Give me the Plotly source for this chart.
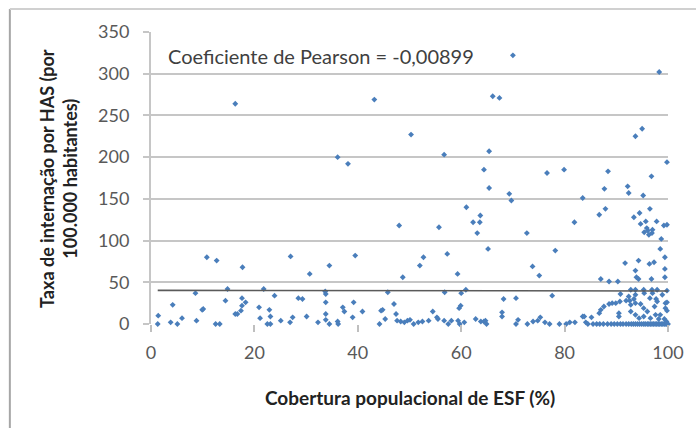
import plotly.graph_objects as go

# Cobertura populacional de ESF (%) and Taxa de internação por HAS (por 100.000 habitantes)
cobertura = [
    70.0, 98.3, 16.3, 43.2, 66.1, 67.4, 50.3, 93.7, 95.0, 36.1, 38.1, 56.7, 65.4, 64.4, 76.6, 79.9,
    88.4, 99.8, 96.8, 65.4, 87.7, 92.2, 92.4, 95.2, 69.3, 69.7, 83.5, 61.0, 63.7, 63.6, 62.3, 63.1,
    81.9, 86.7, 87.9, 96.5, 93.4, 94.5, 94.7, 95.7, 96.1, 95.4, 96.9, 97.8, 99.2, 99.8, 98.5, 98.7,
    48.0, 55.7, 72.7, 57.3, 65.2, 78.2, 39.5, 27.0, 10.8, 12.7, 52.7, 52.0, 34.5, 73.8, 17.7, 75.1,
    30.7, 48.7, 59.3, 91.7, 94.3, 96.4, 97.3, 99.4, 99.4, 93.7, 87.0, 88.6, 90.3, 93.9, 94.3, 96.8,
    99.4, 97.0, 95.9, 96.3,
    8.6, 14.8, 21.8, 23.9, 33.7, 33.8, 33.8, 14.4, 17.6, 18.3, 17.6, 17.4, 16.3, 16.7, 28.5, 29.3,
    20.9, 22.9, 23.1, 21.1, 9.9, 10.1, 4.2, 1.4, 6.0, 8.8, 1.3, 3.8, 5.1, 12.5, 13.3, 22.5,
    23.1, 25.1, 26.9, 27.4, 30.1, 32.3, 33.8, 34.5, 36.1, 33.8, 37.1, 37.4, 39.2, 39.0, 40.9, 44.2,
    44.5, 44.8, 45.3, 45.8, 47.0, 47.4, 47.6, 48.3, 49.0, 49.6, 36.2,
    56.8, 60.0, 60.9, 59.9, 59.6, 68.2, 70.6, 77.6, 67.9, 67.9, 54.5, 55.3, 55.5, 50.1, 51.7, 52.5,
    53.7, 56.7, 58.1, 59.4, 60.6, 62.8, 63.8, 64.4, 64.7, 71.0, 73.9, 74.8, 75.3, 76.2, 77.1, 79.0,
    80.3, 81.0, 82.0, 83.5, 84.1, 59.7, 70.6, 50.8, 57.5, 64.9, 72.8,
    92.8, 93.7, 95.3, 96.9, 97.9, 99.8, 90.8, 92.4, 91.9, 92.6, 93.4, 93.7, 92.8, 94.7, 95.3, 96.0,
    96.5, 97.7, 97.9, 97.4, 98.5, 97.6, 99.5, 99.5, 93.7, 95.4, 97.0, 98.9,
    83.8, 85.2, 86.7, 87.0, 87.6, 88.6, 89.2, 89.9, 90.7, 90.5, 90.5, 92.8, 93.7, 94.4, 95.3, 96.6,
    98.2, 99.3, 99.7, 99.8, 99.8,
    84.5, 85.5, 86.2, 86.8, 87.5, 88.3, 89.0, 89.6, 90.2, 90.8, 91.3, 91.9, 92.4, 92.9, 93.3, 93.7,
    94.1, 94.5, 94.9, 95.3, 95.6, 96.0, 96.3, 96.6, 96.9, 97.2, 97.5, 97.8, 98.1, 98.4, 98.7, 99.0,
    99.3, 99.6, 99.8, 100.0,
]
taxa = [
    322, 302, 264, 269, 273, 271, 227, 225, 234, 200, 192, 203, 207, 185, 181, 185,
    183, 194, 177, 163, 162, 165, 157, 154, 156, 148, 151, 140, 130, 122, 122, 109,
    122, 131, 138, 138, 128, 133, 120, 123, 112, 110, 109, 123, 118, 119, 90, 102,
    118, 116, 109, 84, 90, 88, 82, 81, 80, 76, 80, 70, 70, 69, 68, 58,
    60, 56, 60, 73, 76, 72, 74, 80, 66, 64, 54, 51, 51, 56, 54, 54,
    56, 113, 115, 107,
    37, 42, 42, 34, 39, 36, 26, 28, 31, 26, 22, 16, 12, 12, 31, 30,
    20, 17, 9, 7, 17, 18, 23, 10, 7, 4, 0, 2, 0, 0, 0, 0,
    0, 4, 2, 8, 9, 2, 12, 0, 3, 5, 20, 15, 26, 8, 15, 0,
    16, 17, 6, 38, 24, 12, 4, 3, 2, 4, 0,
    38, 37, 41, 22, 19, 30, 31, 34, 14, 9, 15, 8, 6, 5, 2, 3,
    4, 4, 4, 4, 2, 6, 3, 3, 4, 5, 3, 4, 8, 2, 0, 0,
    0, 2, 2, 9, 2, 0, 0, 0, 0, 0, 0,
    41, 41, 41, 41, 41, 40, 36, 33, 28, 28, 30, 25, 23, 24, 19, 15,
    31, 30, 27, 21, 11, 11, 25, 19, 35, 37, 37, 35,
    9, 8, 13, 17, 21, 24, 25, 25, 27, 13, 9, 15, 11, 7, 9, 7,
    6, 6, 3, 26, 16,
    0, 0, 0, 0, 0, 0, 0, 0, 0, 0, 0, 0, 0, 0, 0, 0,
    0, 0, 0, 0, 0, 0, 0, 0, 0, 0, 0, 0, 0, 0, 0, 0,
    0, 0, 0, 0,
]

# Linear trend line end points
trend_x = [1.3, 100]
trend_y = [40.3, 39.6]

x_ticks = [0, 20, 40, 60, 80, 100]
y_ticks = [0, 50, 100, 150, 200, 250, 300, 350]

pearson_text = "Coeficiente de Pearson = -0,00899"
x_title = "Cobertura populacional de ESF (%)"
y_title = "Taxa de internação por HAS (por<br>100.000 habitantes)"

FONT = "Lato"

fig = go.Figure()
fig.add_trace(go.Scatter(
    x=cobertura, y=taxa, mode="markers", cliponaxis=False,
    marker=dict(symbol="diamond", size=4.5, color="#4A7EBB"),
    showlegend=False, hoverinfo="x+y",
))
fig.add_trace(go.Scatter(
    x=trend_x, y=trend_y, mode="lines",
    line=dict(color="#5A5A5A", width=1.6),
    showlegend=False, hoverinfo="skip",
))

fig.update_layout(
    width=696, height=428,
    margin=dict(l=151, r=25, t=32, b=104),
    paper_bgcolor="white", plot_bgcolor="white",
    font=dict(family=FONT, color="#595959", size=18),
)
fig.update_xaxes(
    range=[0, 100], tickvals=x_ticks, showgrid=False, zeroline=False,
    showline=False, ticks="outside", ticklen=7, tickcolor="#BFBFBF", tickwidth=1.5,
    ticklabelstandoff=5, tickfont=dict(size=18, color="#595959", family=FONT),
)
fig.update_yaxes(
    range=[0, 350], tickvals=y_ticks, showgrid=True, gridcolor="#C6C6C6", gridwidth=2,
    zeroline=False, showline=True, linecolor="#C6C6C6", linewidth=2,
    ticks="outside", ticklen=6, tickcolor="#C6C6C6", tickwidth=2,
    ticklabelstandoff=10, tickfont=dict(size=18, color="#595959", family=FONT),
)

fig.add_annotation(
    x=2.9, y=321, xref="x", yref="y", text=pearson_text, showarrow=False,
    xanchor="left", yanchor="middle", font=dict(size=20, color="#404040", family=FONT),
)
fig.add_annotation(
    x=0.5, y=-0.253, xref="paper", yref="paper", text=x_title, showarrow=False,
    xanchor="center", yanchor="middle", font=dict(size=19, color="#222222", family=FONT, weight="bold"),
)
fig.add_annotation(
    x=-0.18, y=0.5, xref="paper", yref="paper", text=y_title, showarrow=False, textangle=-90,
    xanchor="center", yanchor="middle", font=dict(size=18, color="#222222", family=FONT, weight="bold"),
)

# chart-area border (left and top)
fig.add_shape(type="line", xref="paper", yref="paper", x0=-0.273, y0=-0.4, x1=-0.273, y1=1.0788,
              line=dict(color="#A6A6A6", width=2))
fig.add_shape(type="line", xref="paper", yref="paper", x0=-0.273, y0=1.0788, x1=1.1, y1=1.0788,
              line=dict(color="#D0D0D0", width=2))

fig.write_html("out.html", config={"displayModeBar": False},
               post_script="document.body.style.margin='0';")
